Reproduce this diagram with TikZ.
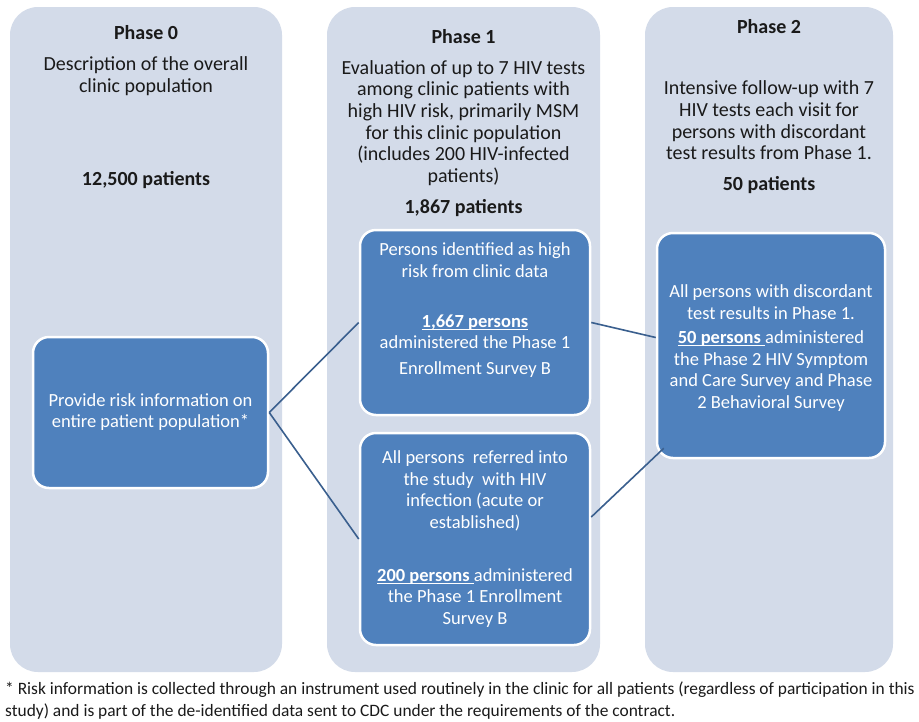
\documentclass[tikz,border=0pt]{standalone}
\usepackage{fontspec}
\setmainfont{Carlito}
\usetikzlibrary{calc}
\definecolor{colbg}{HTML}{D3DBE9}
\definecolor{boxbl}{HTML}{4F81BD}
\definecolor{linebl}{HTML}{3A5F8E}
\definecolor{txt}{HTML}{1A1A1A}
\newcommand\myul[1]{\setbox0\hbox{#1}\rlap{\rule[-2.4pt]{\wd0}{1.1pt}}\box0}
\tikzset{
  column/.style={fill=colbg, rounded corners=28pt, inner sep=0pt},
  bluebox/.style={fill=boxbl, draw=white, line width=2.5pt, rounded corners=16pt, inner sep=0pt},
  head/.style={text=txt, font=\fontsize{20}{22}\selectfont\bfseries, inner sep=0pt},
  desc/.style={text=txt, font=\fontsize{20}{21.7}\selectfont, align=center, inner sep=0pt},
  btext/.style={text=white, font=\fontsize{18.5}{21.5}\selectfont, align=center, inner sep=0pt},
  conn/.style={draw=linebl, line width=1.6pt},
  foot/.style={text=txt, font=\fontsize{17.4}{22}\selectfont, align=left, inner sep=0pt, anchor=west}
}
\begin{document}
\begin{tikzpicture}[x=1pt,y=-1pt]
\useasboundingbox (0,0) rectangle (919,721);
\fill[white] (0,0) rectangle (919,721);
% columns
\node[column, minimum width=272pt, minimum height=665pt] (col0) at (146,339.5) {};
\node[column, minimum width=273pt, minimum height=665pt] (col1) at (463.5,339.5) {};
\node[column, minimum width=248pt, minimum height=665pt] (col2) at (769,339.5) {};
% phase 0 texts
\node[head] (h0) at (146,33) {Phase 0};
\node[desc] (d0) at (146,76) {Description of the overall\\clinic population};
\node[head] (n0) at (146,180) {12,500 patients};
% phase 1 texts
\node[head] (h1) at (463.5,37) {Phase 1};
\node[desc] (d1) at (463.5,123) {Evaluation of up to 7 HIV tests\\among clinic patients with\\high HIV risk, primarily MSM\\for this clinic population\\(includes 200 HIV-infected\\patients)};
\node[head] (n1) at (463.5,208) {1,867 patients};
% phase 2 texts
\node[head] (h2) at (769,27) {Phase 2};
\node[desc] (d2) at (769,120.5) {Intensive follow-up with 7\\HIV tests each visit for\\persons with discordant\\test results from Phase 1.};
\node[head] (n2) at (769,185) {50 patients};
% blue boxes
\node[bluebox, minimum width=235pt, minimum height=151pt] (b0) at (150.5,412.5) {};
\node[bluebox, minimum width=230pt, minimum height=185pt] (b1) at (475,322.5) {};
\node[bluebox, minimum width=230pt, minimum height=212pt] (b2) at (475,539) {};
\node[bluebox, minimum width=228pt, minimum height=225pt] (b3) at (771,345.5) {};
% box texts
\node[btext] (t0) at (150.5,412) {Provide risk information on\\entire patient population*};
\node[btext] (t1a) at (475,260) {Persons identified as high\\risk from clinic data};
\node[btext] (t1b) at (475,346) {\textbf{\myul{1,667 persons}}\\administered the Phase 1\\[4pt]Enrollment Survey B};
\node[btext] (t2a) at (475,491) {All persons\ \ referred into\\the study\ \ with HIV\\infection (acute or\\established)};
\node[btext] (t2b) at (475,598) {\textbf{\myul{200 persons\ }}administered\\the Phase 1 Enrollment\\Survey B};
\node[btext] (t3a) at (771,302) {All persons with discordant\\test results in Phase 1.};
\node[btext] (t3b) at (771,371) {\textbf{\myul{50 persons\ }}administered\\the Phase 2 HIV Symptom\\and Care Survey and Phase\\2 Behavioral Survey};
% connectors
\draw[conn] (b0.east) -- (b1.west);
\draw[conn] (b0.east) -- (b2.west);
\draw[conn] (b1.east) -- ([yshift=8pt]b3.west);
\draw[conn] ([yshift=22pt]b2.east) -- ([xshift=8pt,yshift=11pt]b3.south west);
% footnote
\node[foot] (fn) at (5,701) {* Risk information is collected through an instrument used routinely in the clinic for all patients (regardless of participation in this\\study) and is part of the de-identified data sent to CDC under the requirements of the contract.};
\end{tikzpicture}
\end{document}
